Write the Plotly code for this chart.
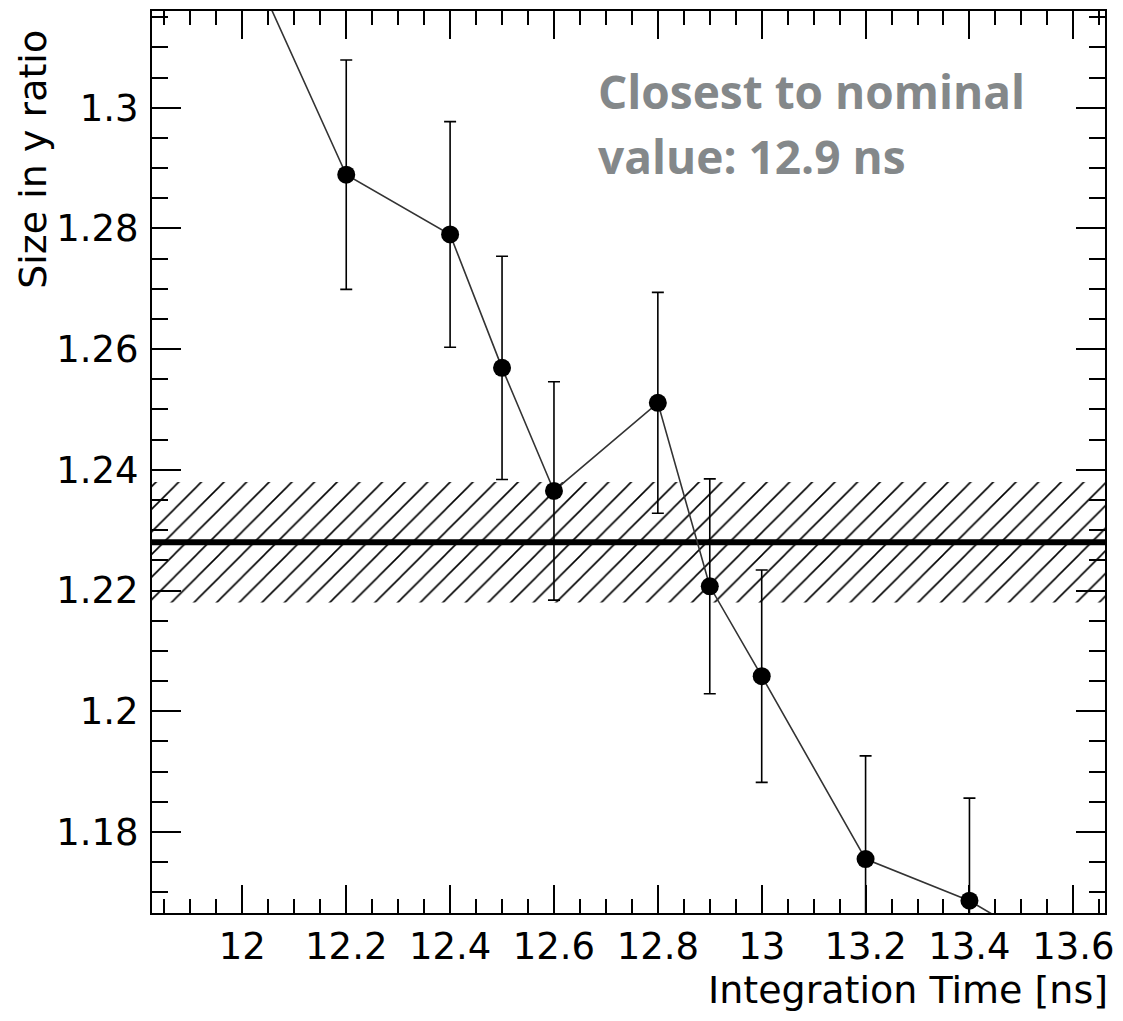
import plotly.graph_objects as go

# Integration-time scan of the cluster size-in-y ratio
integration_time = [11.8, 12.2, 12.4, 12.5, 12.6, 12.8, 12.9, 13.0, 13.2, 13.4, 13.8]
size_ratio = [1.365, 1.2889, 1.2790, 1.2569, 1.2365, 1.2511, 1.2207, 1.2058, 1.1755, 1.1686, 1.1482]
size_ratio_err = [0.020, 0.019, 0.0187, 0.0185, 0.0181, 0.0183, 0.0178, 0.0176, 0.0171, 0.0170, 0.0168]

# Nominal value and its uncertainty band
nominal_value = 1.228
nominal_err = 0.010

x_range = [11.826, 13.661]
y_range = [1.16656, 1.31603]

W, H = 1123, 1021
M = dict(l=152, r=15, t=9, b=108)
PW = W - M["l"] - M["r"]
PH = H - M["t"] - M["b"]

TICK_FONT = dict(family="DejaVu Sans, sans-serif", size=37, color="black")
TITLE_FONT = dict(family="DejaVu Sans, sans-serif", size=38, color="black")
NOTE_FONT = dict(family="Open Sans, Lato, sans-serif", size=46, color="#84888a", weight=700)

fig = go.Figure()

# hatched uncertainty band
band_lo = nominal_value - nominal_err
band_hi = nominal_value + nominal_err
fig.add_trace(go.Scatter(
    x=[x_range[0], x_range[1], x_range[1], x_range[0], x_range[0]],
    y=[band_lo, band_lo, band_hi, band_hi, band_lo],
    mode="lines", fill="toself",
    line=dict(width=0, color="rgba(0,0,0,0)"),
    fillcolor="rgba(0,0,0,0)",
    fillpattern=dict(shape="/", size=16, solidity=0.1,
                     fgcolor="#000000", fgopacity=1, bgcolor="rgba(0,0,0,0)"),
    hoverinfo="skip",
))

# nominal line
fig.add_trace(go.Scatter(
    x=x_range, y=[nominal_value, nominal_value],
    mode="lines", line=dict(color="black", width=6),
    hoverinfo="skip",
))

# measured points
fig.add_trace(go.Scatter(
    x=integration_time, y=size_ratio,
    mode="lines+markers",
    line=dict(color="#333333", width=1.6),
    marker=dict(size=18, color="black"),
    error_y=dict(type="data", array=size_ratio_err, visible=True,
                 color="black", thickness=1.6, width=6),
))

axis_common = dict(
    showline=True, linecolor="black", linewidth=2, mirror="allticks",
    ticks="inside", tickcolor="black", tickwidth=2,
    showgrid=False, zeroline=False, tickfont=TICK_FONT,
)

fig.update_xaxes(
    range=x_range, tick0=12, dtick=0.2, ticklen=28,
    minor=dict(dtick=0.05, tick0=12, ticklen=14, ticks="inside",
               tickcolor="black", tickwidth=2, showgrid=False),
    ticklabelstandoff=0,
    **axis_common,
)
fig.update_yaxes(
    range=y_range, tick0=1.18, dtick=0.02, ticklen=29,
    minor=dict(dtick=0.005, tick0=1.18, ticklen=16, ticks="inside",
               tickcolor="black", tickwidth=2, showgrid=False),
    ticklabelstandoff=4,
    **axis_common,
)

def px_x(p):
    return (p - M["l"]) / PW

def px_y(p):
    return 1 - (p - M["t"]) / PH

fig.add_annotation(
    text="Size in y ratio", textangle=-90, showarrow=False,
    xref="paper", yref="paper", x=px_x(33), y=px_y(26),
    xanchor="center", yanchor="top", font=TITLE_FONT,
)
fig.add_annotation(
    text="Integration Time [ns]", showarrow=False,
    xref="paper", yref="paper", x=px_x(1113), y=px_y(990),
    xanchor="right", yanchor="middle", font=TITLE_FONT,
)
# highlighted result, one annotation per line
fig.add_annotation(
    text="Closest to nominal", showarrow=False, align="left",
    xref="paper", yref="paper", x=px_x(597), y=px_y(89),
    xanchor="left", yanchor="middle", font=NOTE_FONT,
)
fig.add_annotation(
    text="value: 12.9 ns", showarrow=False, align="left",
    xref="paper", yref="paper", x=px_x(597), y=px_y(154),
    xanchor="left", yanchor="middle", font=NOTE_FONT,
)

fig.update_layout(
    width=W, height=H, margin=M,
    plot_bgcolor="white", paper_bgcolor="white",
    showlegend=False,
)

fig.write_html("out.html")
